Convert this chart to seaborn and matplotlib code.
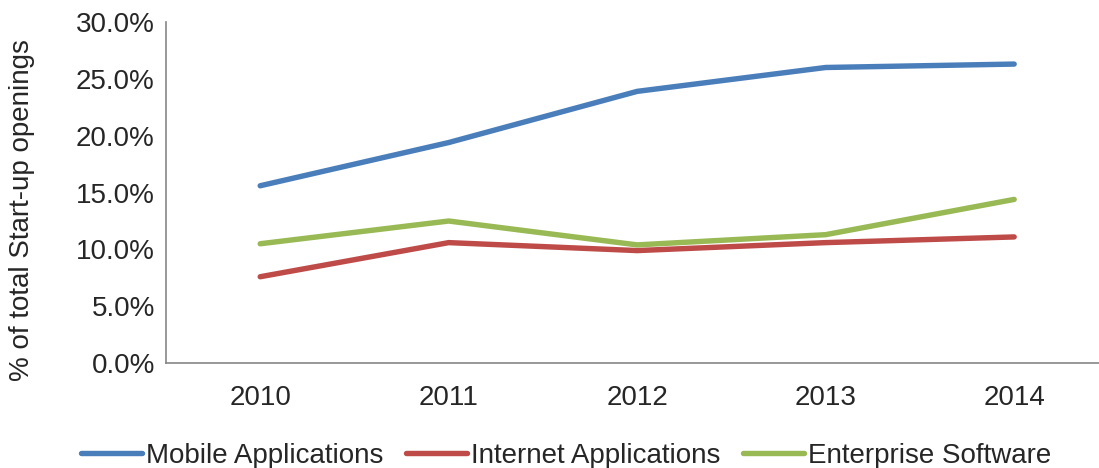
import pandas as pd
import matplotlib
matplotlib.use("Agg")
import matplotlib.pyplot as plt
import seaborn as sns
from matplotlib.ticker import PercentFormatter

# Data (percent of total start-up openings)
years = ["2010", "2011", "2012", "2013", "2014"]
mobile = [15.6, 19.4, 23.9, 26.0, 26.3]
internet = [7.6, 10.6, 9.9, 10.6, 11.1]
enterprise = [10.5, 12.5, 10.4, 11.3, 14.4]
series_names = ["Mobile Applications", "Internet Applications", "Enterprise Software"]

df = pd.DataFrame({"Year": years * 3,
                   "Share": mobile + internet + enterprise,
                   "Series": [s for s in series_names for _ in years]})

colors = {"Mobile Applications": "#4A7EBB",
          "Internet Applications": "#BE4B48",
          "Enterprise Software": "#98B954"}

sns.set_style("white")
plt.rcParams["font.family"] = ["Liberation Sans", "DejaVu Sans"]

fig = plt.figure(figsize=(10.99, 4.68), dpi=100)
ax = fig.add_axes([0.151, 0.224, 0.849, 0.729])

sns.lineplot(data=df, x="Year", y="Share", hue="Series", palette=colors,
             linewidth=3.9, ax=ax, sort=False)

ax.set_ylim(0, 30)
ax.set_xlim(-0.5, 4.45)
ax.yaxis.set_major_formatter(PercentFormatter(decimals=1))
ax.set_yticks(range(0, 31, 5))
ax.set_xlabel("")
ax.set_ylabel("% of total Start-up openings", fontsize=20)
ax.yaxis.set_label_coords(-0.14, 0.45)
ax.tick_params(axis="both", labelsize=20, length=0)
ax.tick_params(axis="x", pad=16)
ax.tick_params(axis="y", pad=8)

for side in ["top", "right"]:
    ax.spines[side].set_visible(False)
for side in ["left", "bottom"]:
    ax.spines[side].set_color("#868686")
    ax.spines[side].set_linewidth(1.2)

ax.legend(loc="center", bbox_to_anchor=(0.429, -0.272), ncol=3, frameon=False,
          fontsize=20, handlelength=2.2, handletextpad=0.15, columnspacing=0.8)

fig.savefig("out.png", dpi=100)
